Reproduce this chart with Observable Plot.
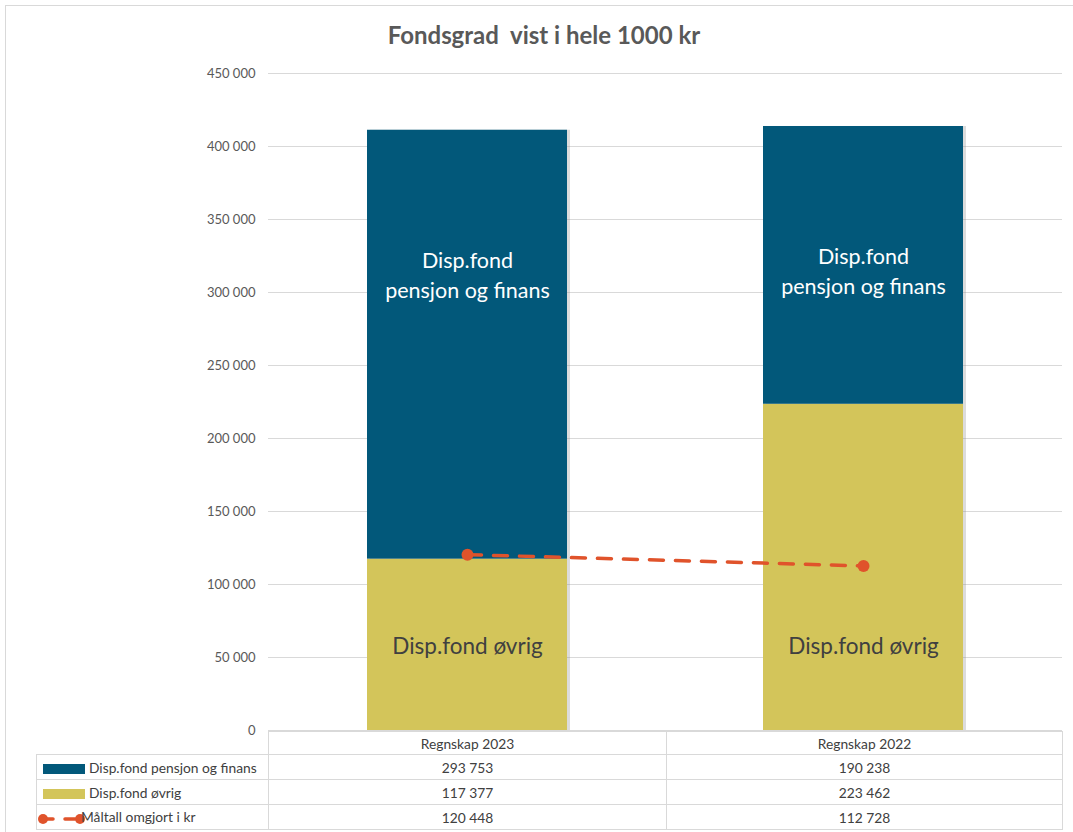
<!DOCTYPE html>
<html><head><meta charset="utf-8">
<script src="https://cdn.jsdelivr.net/npm/d3@7"></script>
<script src="https://cdn.jsdelivr.net/npm/@observablehq/plot@0.6"></script>
<style>
body{margin:0;background:#fff;font-family:Lato,"Open Sans",sans-serif;}
#wrap{position:relative;width:1073px;height:832px;overflow:hidden;background:#fff;}
#frame{position:absolute;left:5px;top:5px;width:1100px;height:900px;border:1px solid #d9d9d9;}
#title{position:absolute;left:0;top:20px;width:1088px;text-align:center;font-size:24px;font-weight:bold;color:#595959;}
#chart{position:absolute;left:0;top:60px;}
#tbl{position:absolute;left:36px;top:731px;border-collapse:collapse;font-size:13.8px;color:#404040;table-layout:fixed;}
#tbl td{border:1px solid #d9d9d9;padding:0;text-align:center;height:24px;white-space:nowrap;}
#tbl tr.head td{height:22px;}
#tbl td.lab{text-align:left;padding-left:6px;}
#tbl td.blank{border:none;border-right:1px solid #d9d9d9;}
.sw{display:inline-block;vertical-align:middle;margin-right:4px;}
</style></head>
<body>
<div id="wrap">
  <div id="frame"></div>
  <div id="title">Fondsgrad&nbsp; vist i hele 1000 kr</div>
  <div id="chart"></div>
  <table id="tbl"></table>
</div>
<script>
const years = ["Regnskap 2023", "Regnskap 2022"];
const seriesNames = ["Disp.fond pensjon og finans", "Disp.fond øvrig", "Måltall omgjort i kr"];
const pensjon = [293753, 190238];
const ovrig = [117377, 223462];
const maltall = [120448, 112728];
const yTicks = [0, 50000, 100000, 150000, 200000, 250000, 300000, 350000, 400000, 450000];

const colBlue = "#02587a", colYellow = "#d3c55a", colOrange = "#e0532b";
const fmt = v => d3.format(",")(v).replace(/,/g, " ");

const rows = [];
years.forEach((y, i) => {
  rows.push({year: y, series: seriesNames[1], value: ovrig[i]});
  rows.push({year: y, series: seriesNames[0], value: pensjon[i]});
});
const totals = years.map((y, i) => ({year: y, total: ovrig[i] + pensjon[i]}));
const targets = years.map((y, i) => ({year: y, value: maltall[i]}));

const chart = Plot.plot({
  width: 1073,
  height: 684,
  marginLeft: 268,
  marginRight: 11,
  marginTop: 13,
  marginBottom: 14,
  style: {fontFamily: "Lato, 'Open Sans', sans-serif", background: "transparent", overflow: "visible"},
  x: {domain: years, paddingInner: 0.495, paddingOuter: 0.25, axis: null},
  y: {domain: [0, 450000], ticks: yTicks},
  color: {domain: [seriesNames[1], seriesNames[0]], range: [colYellow, colBlue]},
  marks: [
    Plot.gridY(yTicks, {stroke: "#d9d9d9", strokeOpacity: 1}),
    Plot.axisY(yTicks, {tickSize: 0, tickPadding: 13, tickFormat: fmt, fontSize: 13, fill: "#595959", label: null}),
    Plot.barY(totals, {x: "year", y: "total", fill: "#8a8a8a", fillOpacity: 0.3, dx: 3}),
    Plot.barY(rows, {x: "year", y: "value", fill: "series"}),
    Plot.text(totals, {x: "year", y: d => d.total - 98000, text: () => "Disp.fond\npensjon og finans", fill: "#ffffff", fontSize: 21.5, lineHeight: 1.4}),
    Plot.text(totals, {x: "year", y: () => 57000, text: () => "Disp.fond øvrig", fill: "#404040", fontSize: 22.5}),
    Plot.line(targets, {x: "year", y: "value", stroke: colOrange, strokeWidth: 3.5, strokeDasharray: "14,12", strokeLinecap: "round"}),
    Plot.dot(targets, {x: "year", y: "value", r: 6, fill: colOrange})
  ]
});
document.getElementById("chart").appendChild(chart);

// data table
const tbl = document.getElementById("tbl");
const colgroup = document.createElement("colgroup");
[232, 398, 396].forEach(w => { const c = document.createElement("col"); c.style.width = w + "px"; colgroup.appendChild(c); });
tbl.appendChild(colgroup);
const head = document.createElement("tr"); head.className = "head";
head.innerHTML = `<td class="blank"></td>` + years.map(y => `<td>${y}</td>`).join("");
tbl.appendChild(head);
const swatches = [
  `<svg class="sw" width="42" height="10"><rect x="0" y="0" width="42" height="10" fill="${colBlue}"/></svg>`,
  `<svg class="sw" width="42" height="10"><rect x="0" y="0" width="42" height="10" fill="${colYellow}"/></svg>`,
  `<svg class="sw" width="48" height="14" style="margin-left:-6px;margin-right:-4px"><line x1="6" y1="7" x2="44" y2="7" stroke="${colOrange}" stroke-width="3.5" stroke-dasharray="10,12" stroke-linecap="round"/><circle cx="6" cy="7" r="5" fill="${colOrange}"/><circle cx="43" cy="7" r="5" fill="${colOrange}"/></svg>`
];
const vals = [pensjon, ovrig, maltall];
seriesNames.forEach((s, i) => {
  const tr = document.createElement("tr");
  tr.innerHTML = `<td class="lab">${swatches[i]}${s}</td>` + vals[i].map(v => `<td>${fmt(v)}</td>`).join("");
  tbl.appendChild(tr);
});
</script>
</body></html>
